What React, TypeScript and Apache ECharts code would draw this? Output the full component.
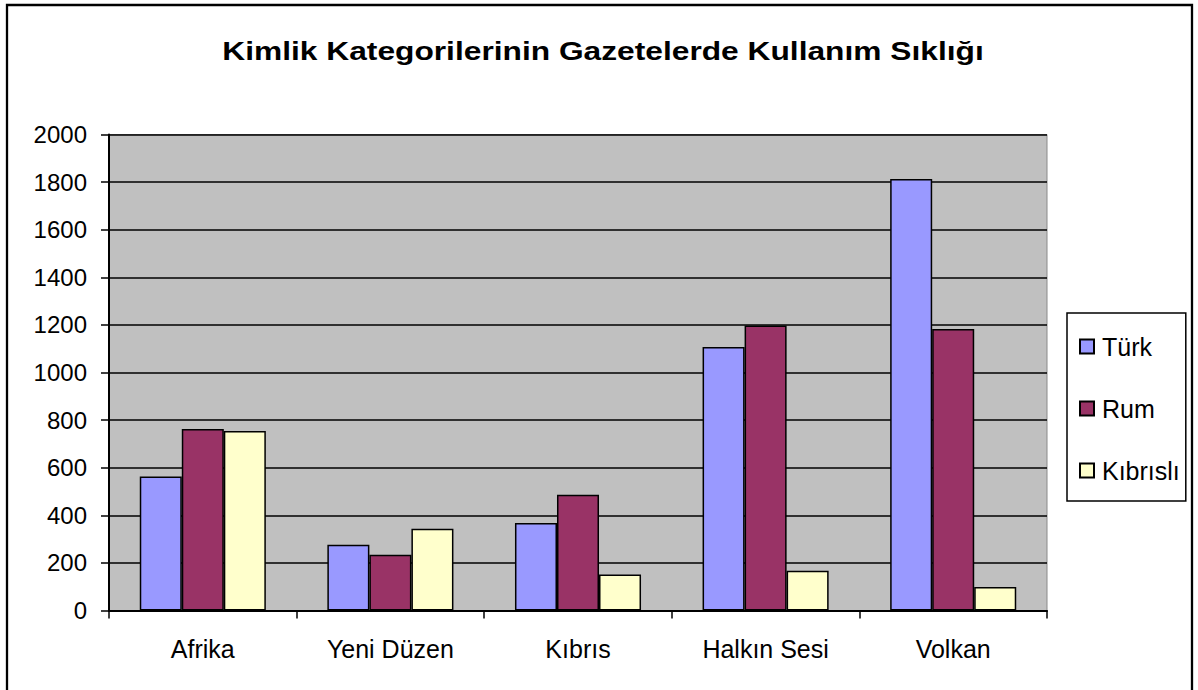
import React, { useEffect, useRef } from "react";
import * as echarts from "echarts";

const titleText = "Kimlik Kategorilerinin Gazetelerde Kullanım Sıklığı";
const categories = ["Afrika", "Yeni Düzen", "Kıbrıs", "Halkın Sesi", "Volkan"];
const seriesNames = ["Türk", "Rum", "Kıbrıslı"];
const turk = [563, 276, 368, 1107, 1813];
const rum = [763, 234, 486, 1197, 1183];
const kibrisli = [754, 343, 151, 167, 99];
const colors = ["#9999FF", "#993366", "#FFFFCC"];
const yMin = 0;
const yMax = 2000;
const yStep = 200;

const FONT = 'Arial, "Liberation Sans", sans-serif';

export default function App() {
  const ref = useRef<HTMLDivElement>(null);
  useEffect(() => {
    if (!ref.current) return;
    const chart = echarts.init(ref.current, null, { renderer: "svg" });
    const values = [turk, rum, kibrisli];
    chart.setOption({
      animation: false,
      backgroundColor: "#ffffff",
      graphic: [
        {
          type: "rect",
          z: -10,
          shape: { x: 7, y: 5, width: 1185, height: 700 },
          style: { fill: "none", stroke: "#000", lineWidth: 2.3 },
          silent: true,
        },
        {
          type: "text",
          x: 603,
          y: 51,
          scaleX: 1.22,
          style: {
            text: titleText,
            fontFamily: FONT,
            fontSize: 26,
            fontWeight: "bold",
            fill: "#000",
            align: "center",
            verticalAlign: "middle",
          },
        },
      ],
      legend: {
        orient: "vertical",
        left: 1067,
        top: 313,
        data: seriesNames,
        itemWidth: 14,
        itemHeight: 14,
        itemGap: 37,
        padding: [21, 6, 18, 12],
        borderColor: "#000",
        borderWidth: 1.5,
        backgroundColor: "#fff",
        icon: "rect",
        textStyle: { fontFamily: FONT, fontSize: 25, color: "#000", padding: [0, 0, 0, 3] },
      },
      grid: {
        left: 109,
        right: 151,
        top: 134.5,
        bottom: 79.5,
        show: true,
        backgroundColor: "#C0C0C0",
        borderColor: "#8a8a8a",
        borderWidth: 1,
      },
      xAxis: {
        type: "category",
        data: categories,
        axisLine: { lineStyle: { color: "#000", width: 2 } },
        axisTick: { show: true, length: 8, lineStyle: { color: "#000", width: 1.5 } },
        axisLabel: { fontFamily: FONT, fontSize: 25, color: "#000", margin: 26 },
      },
      yAxis: {
        type: "value",
        min: yMin,
        max: yMax,
        interval: yStep,
        axisLine: { show: true, lineStyle: { color: "#000", width: 2 } },
        axisTick: { show: true, length: 8, lineStyle: { color: "#000", width: 1.5 } },
        axisLabel: {
          fontFamily: FONT,
          fontSize: 24,
          color: "#000",
          margin: 22,
          formatter: (v: number) => String(v),
        },
        splitLine: { show: true, lineStyle: { color: "#000", width: 1.5 } },
      },
      series: seriesNames.map((name, i) => ({
        name,
        type: "bar",
        data: values[i],
        barGap: "0%",
        barCategoryGap: "32.8%",
        itemStyle: { color: colors[i], borderColor: "#000", borderWidth: 1.5 },
      })),
    });
    return () => chart.dispose();
  }, []);
  return (
    <div
      ref={ref}
      style={{ position: "fixed", left: 0, top: 0, width: 1198, height: 690 }}
    />
  );
}
